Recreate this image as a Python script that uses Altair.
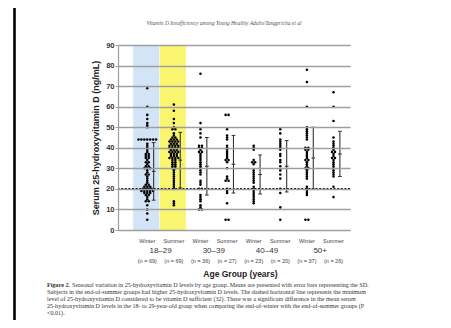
import altair as alt
import pandas as pd

# ---------------- data ----------------
season_labels = ["Winter", "Summer", "Winter", "Summer", "Winter", "Summer", "Winter", "Summer"]
n_labels = ["(n = 69)", "(n = 69)", "(n = 36)", "(n = 27)", "(n = 23)", "(n = 20)", "(n = 37)", "(n = 26)"]
age_groups = ["18\u201329", "30\u201339", "40\u201349", "50+"]

vals_w18 = [69, 60, 56, 54, 52, 51, 50,
            44, 44, 44, 44, 44, 44, 44,
            42, 41, 40, 39, 38, 37, 37, 36, 36, 35, 35, 34, 33, 33, 32, 31, 31, 30, 30, 30,
            29, 28, 27, 27, 26, 25, 24, 23, 22, 22, 21, 21, 21, 20, 20, 20, 20,
            19, 19, 19, 19, 19, 18, 18, 18, 17, 17, 16, 15, 14, 14, 12, 10, 8, 5]
vals_s18 = [61, 58, 54, 52, 50, 49, 49, 47,
            46, 45, 45, 44, 44, 44, 43, 43, 43, 43, 42, 42, 42, 41, 41, 41, 41,
            40, 40, 40, 40, 39, 39, 39, 38, 38, 38, 38, 37, 37, 37, 36, 36, 36,
            35, 35, 35, 35, 34, 34, 33, 33, 32, 32, 31, 31, 30, 30, 29, 28, 27,
            26, 25, 24, 23, 22, 21, 20, 14, 13, 12]
vals_w30 = [76, 52, 49, 47, 45, 41, 41, 40, 40, 39, 38, 38, 37, 36, 35, 34, 33, 32,
            31, 30, 29, 28, 27, 24, 23, 22, 20, 20, 17, 16, 15, 14, 12, 11, 10, 10]
vals_s30 = [56, 56, 49, 46, 45, 44, 41, 40, 39, 38, 37, 36, 35, 34, 34, 33, 30,
            26, 25, 24, 24, 20, 19, 18, 13, 5, 5]
vals_w40 = [41, 40, 39, 34, 33, 33, 32, 29, 28, 27, 26, 25, 24, 23, 21, 20, 19,
            18, 17, 16, 15, 14, 13]
vals_s40 = [49, 47, 44, 43, 42, 41, 40, 39, 37, 36, 34, 33, 31, 29, 27, 25, 20, 18, 11, 5]
vals_w50 = [78, 72, 60, 50, 49, 48, 47, 46, 45, 44, 40, 40, 39, 39, 38, 37, 36, 35,
            34, 34, 33, 32, 31, 30, 30, 29, 28, 27, 26, 25, 21, 20, 19, 18, 17, 5, 5]
vals_s50 = [67, 60, 53, 45, 43, 42, 41, 40, 39, 38, 38, 37, 36, 35, 35, 34, 33, 32,
            31, 30, 29, 28, 27, 26, 21, 16]

means = [28.5, 34, 31, 32, 27, 31, 35, 37]
sds = [14, 13.5, 14, 14, 9.5, 12.5, 15, 11]
y_ticks = [0, 10, 20, 30, 40, 50, 60, 70, 80, 90]
sufficiency_level = 20

header_text = "Vitamin D Insufficiency among Young Healthy Adults/Tangpricha et al"
caption_lines = [
    "Seasonal variation in 25-hydroxyvitamin D levels by age group. Means are presented with error bars representing the SD.",
    "Subjects in the end-of-summer groups had higher 25-hydroxyvitamin D levels. The dashed horizontal line represents the minimum",
    "level of 25-hydroxyvitamin D considered to be vitamin D sufficient (32). There was a significant difference in the mean serum",
    "25-hydroxyvitamin D levels in the 18- to 29-year-old group when comparing the end-of-winter with the end-of-summer groups (P",
    "<0.01).",
]

# ---------------- tables ----------------
all_vals = [vals_w18, vals_s18, vals_w30, vals_s30, vals_w40, vals_s40, vals_w50, vals_s50]
pts = pd.DataFrame([{"col": i, "value": v} for i, vs in enumerate(all_vals) for v in vs])
stats = pd.DataFrame({"col": list(range(8)), "mean": means, "sd": sds})
cols_df = pd.DataFrame({"col": list(range(8)), "season": season_labels, "n": n_labels})
groups_df = pd.DataFrame({"col": [0.5, 2.5, 4.5, 6.5], "group": age_groups})
bands_df = pd.DataFrame({"col": [0, 1], "color": ["#d3e4f6", "#faf56e"]})

xs = alt.Scale(domain=[-1.1, 7.62], nice=False, zero=False)
ys = alt.Scale(domain=[0, 90], nice=False)

yaxis = alt.Axis(values=y_ticks, grid=True, gridColor="#9e9e9e", gridWidth=1.3,
                 domainColor="#9e9e9e", domainWidth=1.2, tickColor="#9e9e9e", tickSize=3,
                 labelFont="Liberation Sans", labelFontWeight="bold", labelFontSize=7.5,
                 labelColor="#333333", labelPadding=1, labelOverlap=False, labelFlush=False,
                 title="Serum 25-hydroxyvitamin D (ng/mL)", titleFont="Liberation Sans",
                 titleFontSize=9, titleFontWeight="bold", titleColor="#222222",
                 titlePadding=5, zindex=1)


def Y(field):
    return alt.Y(field, scale=ys, axis=yaxis)


def X(field):
    return alt.X(field, scale=xs, axis=None)


bands = alt.Chart(bands_df).transform_calculate(
    x1="datum.col - 0.53", x2="datum.col + 0.45", y1="0", y2="90"
).mark_rect().encode(
    x=X("x1:Q"), x2="x2:Q",
    y=Y("y1:Q"), y2="y2:Q",
    color=alt.Color("color:N", scale=None),
)

dots = alt.Chart(pts).transform_window(
    rank="row_number()", groupby=["col", "value"]
).transform_joinaggregate(
    cnt="count()", groupby=["col", "value"]
).transform_calculate(
    xp="datum.col + (datum.rank - (datum.cnt + 1) / 2) * 0.11"
).mark_circle(size=6.5, color="black", opacity=1).encode(
    x=X("xp:Q"),
    y=Y("value:Q"),
)

suff = alt.Chart(pd.DataFrame({"v": [sufficiency_level]})).mark_rule(
    color="black", strokeWidth=2, strokeDash=[2, 1.6]
).encode(y=Y("v:Q"))

err_base = alt.Chart(stats).transform_calculate(
    xe="datum.col + 0.24", lo="datum.mean - datum.sd", hi="datum.mean + datum.sd",
    xa="datum.col + 0.17", xb="datum.col + 0.31"
)
err_v = err_base.mark_rule(color="#333333", strokeWidth=1.1).encode(
    x=X("xe:Q"), y=Y("lo:Q"), y2="hi:Q")
err_m = err_base.mark_rule(color="#333333", strokeWidth=1.1).encode(
    x=X("xa:Q"), x2="xb:Q", y=Y("mean:Q"))
err_lo = err_base.mark_rule(color="#333333", strokeWidth=1).encode(
    x=X("xa:Q"), x2="xb:Q", y=Y("lo:Q"))
err_hi = err_base.mark_rule(color="#333333", strokeWidth=1).encode(
    x=X("xa:Q"), x2="xb:Q", y=Y("hi:Q"))

season_txt = alt.Chart(cols_df).mark_text(
    font="Liberation Sans", fontSize=5.5, color="#444444", baseline="middle"
).encode(x=X("col:Q"), y=alt.value(195.5), text="season:N")
n_txt = alt.Chart(cols_df).mark_text(
    font="Liberation Sans", fontSize=5.5, color="#444444", baseline="middle"
).encode(x=X("col:Q"), y=alt.value(215.5), text="n:N")
group_txt = alt.Chart(groups_df).mark_text(
    font="Liberation Sans", fontSize=8, color="#333333", baseline="middle"
).encode(x=X("col:Q"), y=alt.value(205.5), text="group:N")
xtitle = alt.Chart(pd.DataFrame({"t": ["Age Group (years)"], "c": [3.5]})).mark_text(
    font="Liberation Sans", fontSize=8.5, fontWeight="bold", color="#222222", baseline="middle"
).encode(x=X("c:Q"), y=alt.value(229), text="t:N")

header = alt.Chart(pd.DataFrame({"t": [header_text]})).mark_text(
    font="Liberation Serif", fontSize=5.5, fontStyle="italic", color="#555555", baseline="middle"
).encode(x=alt.value(106), y=alt.value(-22), text="t:N")

frame = alt.Chart(pd.DataFrame({"a": [0]})).mark_rect(
    filled=False, stroke="black", strokeWidth=2.6
).encode(x=alt.value(-103.5), x2=alt.value(327), y=alt.value(-39.4), y2=alt.value(300))

fig_lbl = alt.Chart(pd.DataFrame({"t": ["Figure 2."]})).mark_text(
    font="Liberation Serif", fontSize=6, fontWeight="bold", color="#333333",
    align="left", baseline="middle"
).encode(x=alt.value(-71), y=alt.value(239.5), text="t:N")

cap_rows = []
for i, line in enumerate(caption_lines):
    cap_rows.append({"t": line, "i": i})
cap_df = pd.DataFrame(cap_rows)
caption = alt.Chart(cap_df).transform_calculate(
    yy="239.5 + datum.i * 7", xx="datum.i == 0 ? -46 : -71"
).mark_text(
    font="Liberation Serif", fontSize=6.1, color="#333333", align="left", baseline="middle"
).encode(x=alt.X("xx:Q", scale=None, axis=None), y=alt.Y("yy:Q", scale=None, axis=None),
         text="t:N")

chart = alt.layer(
    bands, dots, suff, err_v, err_m, err_lo, err_hi,
    season_txt, n_txt, group_txt, xtitle, header, frame, fig_lbl, caption
).properties(
    width=232, height=185,
    autosize=alt.AutoSizeParams(type="none"),
    padding={"left": 110, "top": 37, "right": 93, "bottom": 90},
    background="white",
).configure_view(stroke=None)

chart.save("out.html", embed_options={"renderer": "svg", "actions": False})
